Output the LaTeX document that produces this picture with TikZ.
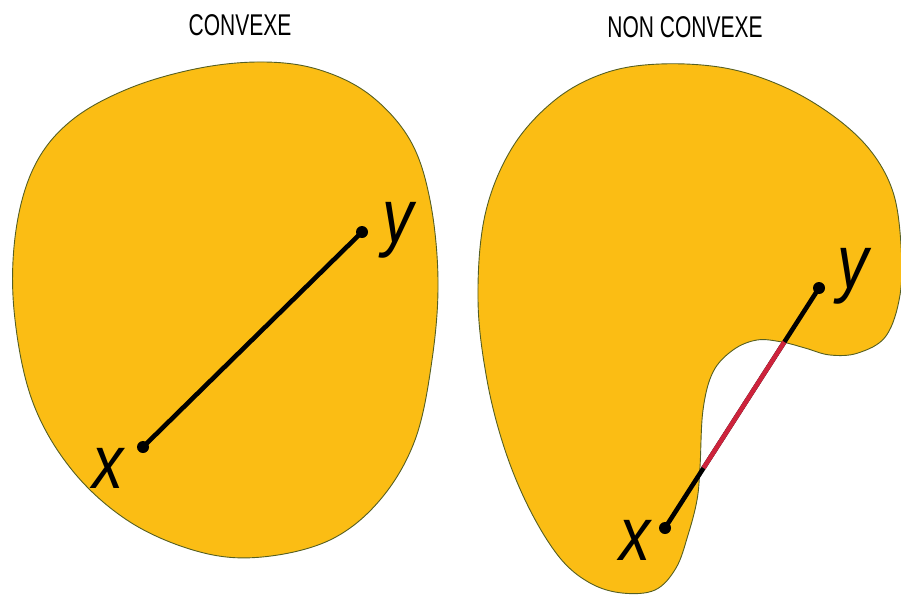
\documentclass[tikz,border=0pt]{standalone}
\usepackage{fontspec}
\setmainfont{Liberation Sans}
\usetikzlibrary{calc}
\definecolor{blobfill}{RGB}{251,189,20}
\definecolor{blobline}{RGB}{85,95,35}
\definecolor{segred}{RGB}{205,35,60}
\tikzset{
  blob/.style={fill=blobfill, draw=blobline, line width=0.9pt},
  seg/.style={line width=4.6pt, black, line cap=round},
  redseg/.style={line width=4.6pt, segred},
  pt/.style={circle, fill=black, inner sep=0pt, minimum size=12pt},
  ptlabel/.style={font=\fontsize{76}{76}\selectfont\itshape, xscale=0.82, inner sep=0pt},
  title/.style={font=\fontsize{30}{30}\selectfont, xscale=0.7, inner sep=0pt}
}
\begin{document}
\begin{tikzpicture}[x=1pt,y=-1pt]
\useasboundingbox (0,0) rectangle (901,598);
% titles
\node[title] (t1) at (240,25) {CONVEXE};
\node[title] (t2) at (685,27) {NON CONVEXE};
% convex blob
\draw[blob] plot[smooth cycle, tension=0.6] coordinates {
 (265,62) (320,70) (370,95) (410,140) (430,200) (438,280) (432,360)
 (415,440) (380,500) (330,540) (262,557) (200,552) (130,522) (72,470)
 (32,400) (14,310) (16,230) (35,165) (72,120) (130,88) (200,68)};
% non-convex blob
\draw[blob] plot[smooth cycle, tension=0.6] coordinates {
 (660,64) (725,68) (782,86) (832,115) (870,150) (893,192) (901,245)
 (900,295) (886,336) (858,353) (830,355) (805,348) (782,342) (757,340)
 (733,350) (713,372) (703,410) (700,467) (697,500) (688,535) (676,568)
 (655,590) (622,593) (590,583) (560,558) (530,510) (505,450) (487,380)
 (478,300) (485,215) (512,148) (555,100) (605,73)};
% convex segment
\coordinate (x1) at (143,447);
\coordinate (y1) at (362,232);
\draw[seg] (x1) -- (y1);
\node[pt] (px1) at (x1) {};
\node[pt] (py1) at (y1) {};
\node[ptlabel] (lx1) at (108,468) {x};
\node[ptlabel] (ly1) at (398,230) {y};
% non-convex segment
\coordinate (x2) at (665,528);
\coordinate (y2) at (819,288);
\draw[seg] (x2) -- (y2);
\coordinate (r1) at ($(x2)!0.25!(y2)$);
\coordinate (r2) at ($(x2)!0.775!(y2)$);
\draw[redseg] (r1) -- (r2);
\node[pt] (px2) at (x2) {};
\node[pt] (py2) at (y2) {};
\node[ptlabel] (lx2) at (635,540) {x};
\node[ptlabel] (ly2) at (853,276) {y};
\end{tikzpicture}
\end{document}
